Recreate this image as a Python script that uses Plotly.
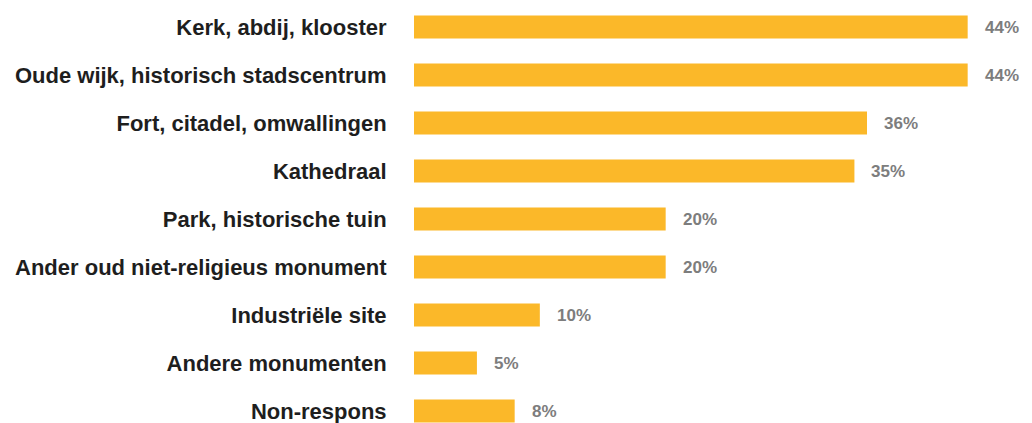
import plotly.graph_objects as go

categories = [
    "Kerk, abdij, klooster",
    "Oude wijk, historisch stadscentrum",
    "Fort, citadel, omwallingen",
    "Kathedraal",
    "Park, historische tuin",
    "Ander oud niet-religieus monument",
    "Industriële site",
    "Andere monumenten",
    "Non-respons",
]
values = [44, 44, 36, 35, 20, 20, 10, 5, 8]

BAR_COLOR = "#FBB829"
VALUE_COLOR = "#7d7d7d"
LABEL_COLOR = "#1e1e1e"
FONT = "Liberation Sans, Arial, sans-serif"

fig = go.Figure(
    go.Bar(
        x=values,
        y=categories,
        orientation="h",
        marker=dict(color=BAR_COLOR, line=dict(width=0)),
        width=0.48,
        hoverinfo="skip",
    )
)

# value labels just right of each bar
for cat, val in zip(categories, values):
    fig.add_annotation(
        x=val,
        y=cat,
        text=f"{val}%",
        showarrow=False,
        xanchor="left",
        yanchor="middle",
        xshift=15,
        font=dict(family=FONT, size=17, color=VALUE_COLOR, weight="bold"),
    )

fig.update_layout(
    width=1032,
    height=423,
    margin=dict(l=414, r=14, t=0, b=0, pad=0),
    paper_bgcolor="white",
    plot_bgcolor="white",
    showlegend=False,
    xaxis=dict(
        range=[0, 48],
        visible=False,
        showgrid=False,
        zeroline=False,
    ),
    yaxis=dict(
        type="category",
        categoryorder="array",
        categoryarray=categories,
        range=[8.25, -0.5625],
        showgrid=False,
        zeroline=False,
        showline=False,
        ticks="outside",
        ticklen=22,
        tickcolor="rgba(0,0,0,0)",
        tickfont=dict(family=FONT, size=22, color=LABEL_COLOR, weight="bold"),
    ),
)

fig.write_html("out.html")
